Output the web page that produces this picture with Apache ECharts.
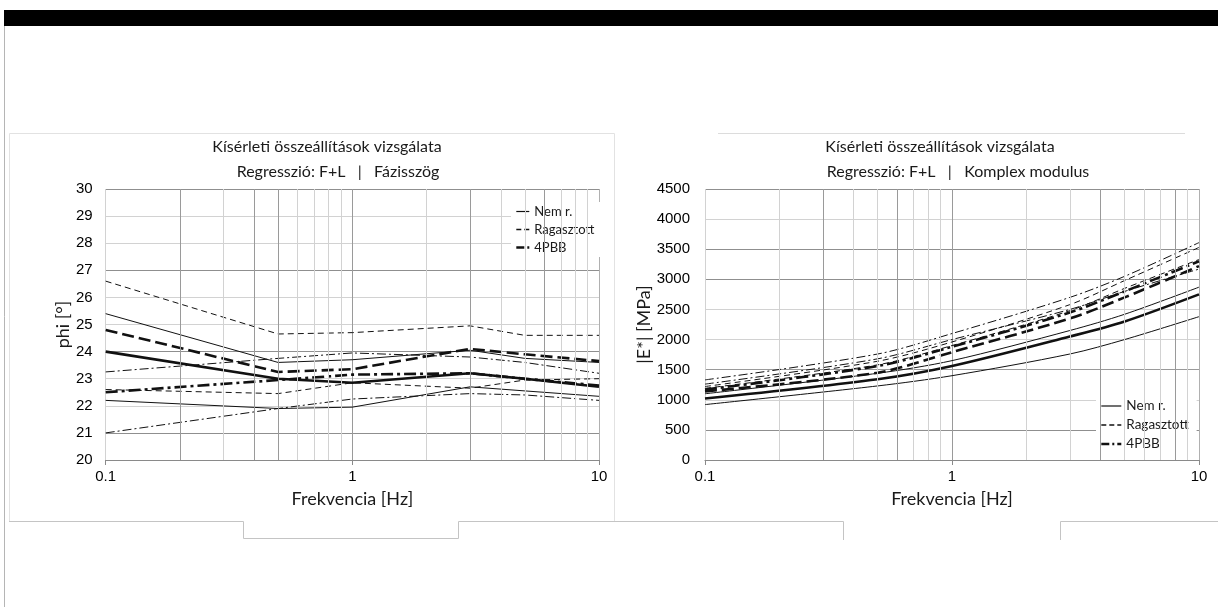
<!DOCTYPE html>
<html>
<head>
<meta charset="utf-8">
<title>Kísérleti összeállítások vizsgálata</title>
<script src="https://cdn.jsdelivr.net/npm/echarts@6/dist/echarts.min.js"></script>
<style>
  html, body { margin: 0; padding: 0; background: #fff; }
  #main { width: 1218px; height: 607px; }
</style>
</head>
<body>
<div id="main"></div>
<script>
// frekvenciák [Hz]
var freqs = [0.1, 0.5, 1, 3, 5, 10];
var minorFreqs = [0.2, 0.3, 0.4, 0.5, 0.6, 0.7, 0.8, 0.9, 2, 3, 4, 5, 6, 7, 8, 9];
var legendNames = ['Nem r.', 'Ragasztott', '4PBB'];

// Fázisszög [°]
var phiNem1 = [25.4, 23.6, 23.7, 24.05, 23.75, 23.6];
var phiNem2 = [24.0, 23.0, 22.85, 23.2, 23.0, 22.7];
var phiNem3 = [22.2, 21.9, 21.95, 22.7, 22.55, 22.35];
var phiRag1 = [26.6, 24.65, 24.7, 24.95, 24.6, 24.6];
var phiRag2 = [24.8, 23.25, 23.35, 24.1, 23.9, 23.65];
var phiRag3 = [22.6, 22.45, 22.85, 22.65, 22.95, 23.0];
var phiPbb1 = [23.25, 23.75, 23.95, 23.8, 23.6, 23.2];
var phiPbb2 = [22.5, 22.95, 23.15, 23.2, 23.0, 22.75];
var phiPbb3 = [21.0, 21.9, 22.25, 22.45, 22.4, 22.2];

// Komplex modulus |E*| [MPa]
var eNem1 = [920, 1230, 1400, 1760, 2000, 2380];
var eNem2 = [1020, 1340, 1560, 2050, 2300, 2750];
var eNem3 = [1100, 1440, 1650, 2150, 2420, 2870];
var eRag1 = [1140, 1450, 1790, 2350, 2700, 3220];
var eRag2 = [1190, 1580, 1900, 2480, 2850, 3330];
var eRag3 = [1220, 1640, 1960, 2580, 2980, 3530];
var ePbb1 = [1330, 1760, 2100, 2700, 3050, 3610];
var ePbb2 = [1170, 1560, 1880, 2450, 2800, 3300];
var ePbb3 = [1260, 1680, 2000, 2500, 2800, 3170];

var chart = echarts.init(document.getElementById('main'), null, { renderer: 'canvas' });

// vonaltípusok
var thin = 1, thick = 2.6;
var solid = 'solid';
var dash = [6, 4], longDash = [12, 5];
var dashDot = [9, 3, 2, 3], longDashDot = [12, 4, 3, 4];

function pairs(vals) {
  return freqs.map(function (f, i) { return [f, vals[i]]; });
}

function line(name, vals, type, width, idx) {
  return {
    name: name,
    type: 'line',
    xAxisIndex: idx,
    yAxisIndex: idx,
    data: pairs(vals),
    symbol: 'none',
    color: '#111',
    smooth: idx === 1 ? 0.3 : false,
    lineStyle: { color: '#111', width: width, type: type },
    z: 3
  };
}

// apró rácsvonalak a log tengelyen (markLine)
function minorGrid(idx, darkList) {
  return {
    name: 'rács' + idx,
    type: 'line',
    xAxisIndex: idx,
    yAxisIndex: idx,
    data: [],
    symbol: 'none',
    z: 1,
    silent: true,
    markLine: {
      silent: true,
      symbol: ['none', 'none'],
      label: { show: false },
      animation: false,
      data: minorFreqs.map(function (f) {
        return {
          xAxis: f,
          lineStyle: { color: darkList.indexOf(f) >= 0 ? '#9a9a9a' : '#d2d2d2', width: 1, type: 'solid' }
        };
      })
    }
  };
}

var tickFont = { fontFamily: 'Liberation Sans', fontSize: 15, color: '#000' };
var nameFont = { fontFamily: 'Lato', fontSize: 18, color: '#1a1a1a' };

function logAxis(idx) {
  return {
    type: 'log',
    logBase: 10,
    gridIndex: idx,
    min: 0.1,
    max: 10,
    name: 'Frekvencia [Hz]',
    nameLocation: 'middle',
    nameGap: 30,
    nameTextStyle: nameFont,
    axisLine: { lineStyle: { color: '#8a8a8a', width: 1.2 } },
    axisTick: { show: true, length: 5, lineStyle: { color: '#8a8a8a' } },
    axisLabel: {
      margin: 9,
      fontFamily: 'Liberation Sans', fontSize: 15, color: '#000',
      formatter: function (v) { return String(+v.toPrecision(3)); }
    },
    splitLine: { show: true, lineStyle: { color: ['#d2d2d2', '#9a9a9a', '#b0b0b0'] } },
    minorTick: { show: false },
    minorSplitLine: { show: false }
  };
}

// jelmagyarázat: csak a vonal, pont nélkül
var legendBase = {
  data: [
    { name: legendNames[0], lineStyle: { width: 1.2, type: 'solid' } },
    { name: legendNames[1], lineStyle: { width: 1.6, type: [5, 3] } },
    { name: legendNames[2], lineStyle: { width: 2.6, type: [8, 3, 2, 3] } }
  ],
  orient: 'vertical',
  backgroundColor: '#fff',
  padding: [3, 8, 3, 4],
  itemGap: 5,
  itemStyle: { opacity: 0, color: 'rgba(0,0,0,0)', borderWidth: 0 }
};

var option = {
  backgroundColor: '#fff',
  animation: false,
  grid: [
    { left: 105.7, top: 189, width: 493.3, height: 271 },
    { left: 705, top: 189, width: 494, height: 271 }
  ],
  legend: [
    Object.assign({}, legendBase, {
      left: 511, top: 202,
      itemWidth: 13, itemHeight: 12,
      textStyle: { fontFamily: 'Lato', fontSize: 13, color: '#1a1a1a' }
    }),
    Object.assign({}, legendBase, {
      left: 1096, top: 396,
      itemWidth: 20, itemHeight: 13,
      textStyle: { fontFamily: 'Lato', fontSize: 13.5, color: '#1a1a1a' }
    })
  ],
  xAxis: [logAxis(0), logAxis(1)],
  yAxis: [
    {
      type: 'value', gridIndex: 0,
      min: 20, max: 30, interval: 1,
      name: 'phi [°]',
      nameLocation: 'middle',
      nameGap: 34,
      nameTextStyle: nameFont,
      axisLine: { show: false },
      axisTick: { show: false },
      axisLabel: Object.assign({ margin: 13 }, tickFont),
      splitLine: { lineStyle: { color: ['#d2d2d2', '#8f8f8f', '#d2d2d2'] } }
    },
    {
      type: 'value', gridIndex: 1,
      min: 0, max: 4500, interval: 500,
      name: '|E*| [MPa]',
      nameLocation: 'middle',
      nameGap: 50,
      nameTextStyle: nameFont,
      axisLine: { show: false },
      axisTick: { show: false },
      axisLabel: Object.assign({ margin: 15, formatter: function (v) { return String(v); } }, tickFont),
      splitLine: { lineStyle: { color: ['#8f8f8f', '#8f8f8f', '#d2d2d2', '#9a9a9a', '#d2d2d2', '#d2d2d2', '#8f8f8f', '#8f8f8f', '#d2d2d2', '#8f8f8f'] } }
    }
  ],
  graphic: [
    // felső fekete sáv és keret
    { type: 'rect', shape: { x: 4, y: 10, width: 1214, height: 16 }, style: { fill: '#000' } },
    { type: 'line', shape: { x1: 4.5, y1: 26, x2: 4.5, y2: 607 }, style: { stroke: '#b5b5b5', lineWidth: 1 } },
    { type: 'polyline', shape: { points: [[9.5, 521], [9.5, 133.5], [614.5, 133.5], [614.5, 521]] }, style: { stroke: '#e2e2e2', lineWidth: 1, fill: null } },
    { type: 'line', shape: { x1: 718, y1: 133.5, x2: 1185, y2: 133.5 }, style: { stroke: '#dcdcdc', lineWidth: 1 } },
    { type: 'polyline', shape: { points: [[9, 521.5], [243.5, 521.5], [243.5, 538.5], [458.5, 538.5], [458.5, 521.5], [843.5, 521.5], [843.5, 540]] }, style: { stroke: '#c4c4c4', lineWidth: 1, fill: null } },
    { type: 'polyline', shape: { points: [[1060.5, 540], [1060.5, 521.5], [1218, 521.5]] }, style: { stroke: '#c4c4c4', lineWidth: 1, fill: null } },
    // címek
    { type: 'text', style: { text: 'Kísérleti összeállítások vizsgálata', x: 327, y: 147, textAlign: 'center', textVerticalAlign: 'middle', font: '16px Lato', fill: '#1a1a1a' } },
    { type: 'text', style: { text: 'Regresszió: F+L   |   Fázisszög', x: 338, y: 172, textAlign: 'center', textVerticalAlign: 'middle', font: '16px Lato', fill: '#1a1a1a' } },
    { type: 'text', style: { text: 'Kísérleti összeállítások vizsgálata', x: 940, y: 147, textAlign: 'center', textVerticalAlign: 'middle', font: '16px Lato', fill: '#1a1a1a' } },
    { type: 'text', style: { text: 'Regresszió: F+L   |   Komplex modulus', x: 958, y: 172, textAlign: 'center', textVerticalAlign: 'middle', font: '16px Lato', fill: '#1a1a1a' } }
  ],
  series: [
    minorGrid(0, [0.2, 0.4, 0.5, 3, 6]),
    minorGrid(1, [0.3, 0.6, 4, 8]),
    // Fázisszög
    line('Nem r.', phiNem1, solid, thin, 0),
    line('Ragasztott', phiRag1, dash, thin, 0),
    line('4PBB', phiPbb2, longDashDot, thick, 0),
    line('Nem r.', phiNem2, solid, thick, 0),
    line('Nem r.', phiNem3, solid, thin, 0),
    line('Ragasztott', phiRag2, longDash, thick, 0),
    line('Ragasztott', phiRag3, dash, thin, 0),
    line('4PBB', phiPbb1, dashDot, thin, 0),
    line('4PBB', phiPbb3, dashDot, thin, 0),
    // Komplex modulus
    line('Nem r.', eNem1, solid, thin, 1),
    line('Nem r.', eNem2, solid, thick, 1),
    line('Nem r.', eNem3, solid, thin, 1),
    line('Ragasztott', eRag1, longDash, thick, 1),
    line('Ragasztott', eRag2, dash, thin, 1),
    line('Ragasztott', eRag3, dash, thin, 1),
    line('4PBB', ePbb1, dashDot, thin, 1),
    line('4PBB', ePbb2, longDashDot, thick, 1),
    line('4PBB', ePbb3, dashDot, thin, 1)
  ]
};

chart.setOption(option);
</script>
</body>
</html>
